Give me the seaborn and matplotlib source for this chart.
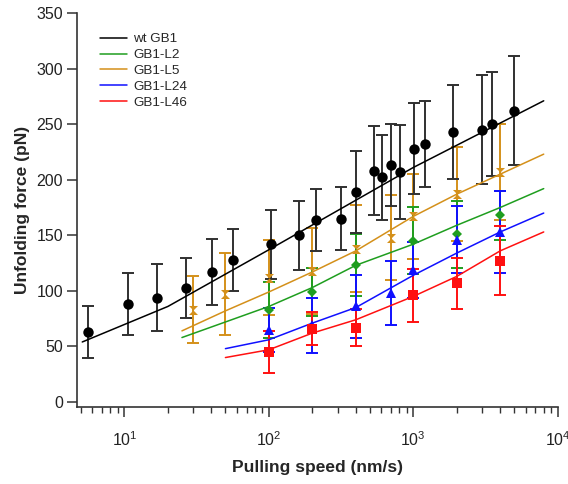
import numpy as np
import pandas as pd
import matplotlib
matplotlib.use("Agg")
import matplotlib.pyplot as plt
import seaborn as sns
from matplotlib.lines import Line2D

# ---- data ----
wt_x = [5.6, 10.6, 16.7, 26.5, 40.5, 56.4, 104, 162, 211, 315, 403, 532, 604, 704, 813, 1016, 1199, 1884, 2977, 3493, 5010]
wt_y = [63, 88, 94, 103, 117, 128, 142, 150, 164, 165, 189, 208, 202, 213, 207, 228, 232, 243, 245, 250, 262]
wt_e = [23, 28, 30, 27, 30, 28, 31, 31, 28, 28, 37, 40, 38, 37, 42, 41, 39, 42, 49, 47, 49]

l5_x = [30, 50, 100, 200, 400, 700, 1000, 2000, 4000]
l5_y = [83, 97, 112, 118, 138, 148, 167, 187, 207]
l5_e = [30, 37, 34, 39, 39, 38, 38, 42, 43]

l2_x = [100, 200, 400, 1000, 2000, 4000]
l2_y = [83, 99, 123, 145, 151, 168]
l2_e = [25, 22, 28, 30, 30, 22]

l24_x = [100, 200, 400, 700, 1000, 2000, 4000]
l24_y = [65, 69, 86, 98, 119, 146, 153]
l24_e = [20, 25, 28, 29, 25, 30, 37]

l46_x = [100, 200, 400, 1000, 2000, 4000]
l46_y = [45, 66, 67, 96, 107, 127]
l46_e = [19, 15, 17, 24, 23, 31]

# fit curves
fit_wt_x = [5.1, 20, 100, 1000, 8000]
fit_wt_y = [54, 86, 137, 211, 271]
fit_l5_x = [25, 50, 100, 200, 400, 1000, 2000, 4000, 8000]
fit_l5_y = [64, 82, 99, 117, 136, 167, 187, 205, 223]
fit_l2_x = [25, 100, 200, 400, 1000, 2000, 4000, 8000]
fit_l2_y = [58, 86, 103, 123, 142, 159, 175, 192]
fit_l24_x = [50, 100, 200, 400, 1000, 2000, 4000, 8000]
fit_l24_y = [48, 56, 71, 85, 114, 134, 153, 170]
fit_l46_x = [50, 100, 200, 400, 1000, 2000, 4000, 8000]
fit_l46_y = [40, 47, 62, 74, 95, 113, 136, 153]

labels = ["wt GB1", "GB1-L2", "GB1-L5", "GB1-L24", "GB1-L46"]
colors = {"wt GB1": "#000000", "GB1-L2": "#1f9e1f", "GB1-L5": "#d4901a",
          "GB1-L24": "#1010ff", "GB1-L46": "#ff1010"}
errcolors = {"wt GB1": "#303030", "GB1-L2": "#1f9e1f", "GB1-L5": "#d4901a",
             "GB1-L24": "#1010ff", "GB1-L46": "#ff1010"}

fits = pd.concat([
    pd.DataFrame({"speed": fit_wt_x, "force": fit_wt_y, "series": "wt GB1"}),
    pd.DataFrame({"speed": fit_l2_x, "force": fit_l2_y, "series": "GB1-L2"}),
    pd.DataFrame({"speed": fit_l5_x, "force": fit_l5_y, "series": "GB1-L5"}),
    pd.DataFrame({"speed": fit_l24_x, "force": fit_l24_y, "series": "GB1-L24"}),
    pd.DataFrame({"speed": fit_l46_x, "force": fit_l46_y, "series": "GB1-L46"}),
], ignore_index=True)

sns.set_style("ticks")
plt.rcParams["font.family"] = ["Liberation Sans", "DejaVu Sans"]
plt.rcParams["mathtext.fontset"] = "custom"
plt.rcParams["mathtext.rm"] = "Liberation Sans"
plt.rcParams["mathtext.it"] = "Liberation Sans"

fig = plt.figure(figsize=(5.68, 4.84), dpi=100)
ax = fig.add_axes([77/568, 1-407/484, (557.7-77)/568, (407-13)/484])

hourglass = [(-1, 1), (1, 1), (0, 0), (1, -1), (-1, -1), (0, 0)]

pts = [
    ("GB1-L5", l5_x, l5_y, l5_e, hourglass, 6.5),
    ("GB1-L2", l2_x, l2_y, l2_e, "D", 5),
    ("GB1-L24", l24_x, l24_y, l24_e, "^", 6.5),
    ("GB1-L46", l46_x, l46_y, l46_e, "s", 6.5),
    ("wt GB1", wt_x, wt_y, wt_e, "o", 7.5),
]
for name, xs, ys, es, mk, ms in pts:
    ax.errorbar(xs, ys, yerr=es, fmt="none", ecolor=errcolors[name],
                elinewidth=1.4, capsize=4, capthick=1.4, zorder=2)
    ax.plot(xs, ys, linestyle="none", marker=mk, markersize=ms,
            color=colors[name], markeredgewidth=0, zorder=4)

sns.lineplot(data=fits, x="speed", y="force", hue="series", hue_order=labels,
             palette=colors, linewidth=1.1, ax=ax, legend=False, zorder=3,
             estimator=None, sort=False)

ax.set_xscale("log")
ax.set_xlim(4.69, 1e4)
ax.set_ylim(-4.5, 350)
ax.set_yticks(np.arange(0, 351, 50))

for s in ["top", "right"]:
    ax.spines[s].set_visible(False)
for s in ["left", "bottom"]:
    ax.spines[s].set_color("#333333")
    ax.spines[s].set_linewidth(1.2)

ax.tick_params(axis="both", which="major", direction="out", length=7, width=1.1,
               color="#333333", labelsize=11.5, labelcolor="#222222", pad=3)
ax.tick_params(axis="x", which="minor", direction="out", length=4, width=1.0, color="#333333")
ax.tick_params(axis="x", which="major", pad=10)

ax.set_xlabel("Pulling speed (nm/s)", fontsize=12.5, fontweight="bold", labelpad=8)
ax.set_ylabel("Unfolding force (pN)", fontsize=12.5, fontweight="bold", labelpad=5)

handles = [Line2D([0], [0], color=colors[l], lw=1.1) for l in labels]
fig.legend(handles, labels, loc="upper left", bbox_to_anchor=(100/568, 1-33/484),
           frameon=False, fontsize=9.7, handlelength=2.0, handletextpad=0.45,
           labelspacing=0.25, borderpad=0, borderaxespad=0)

fig.savefig("out.png", dpi=100)
